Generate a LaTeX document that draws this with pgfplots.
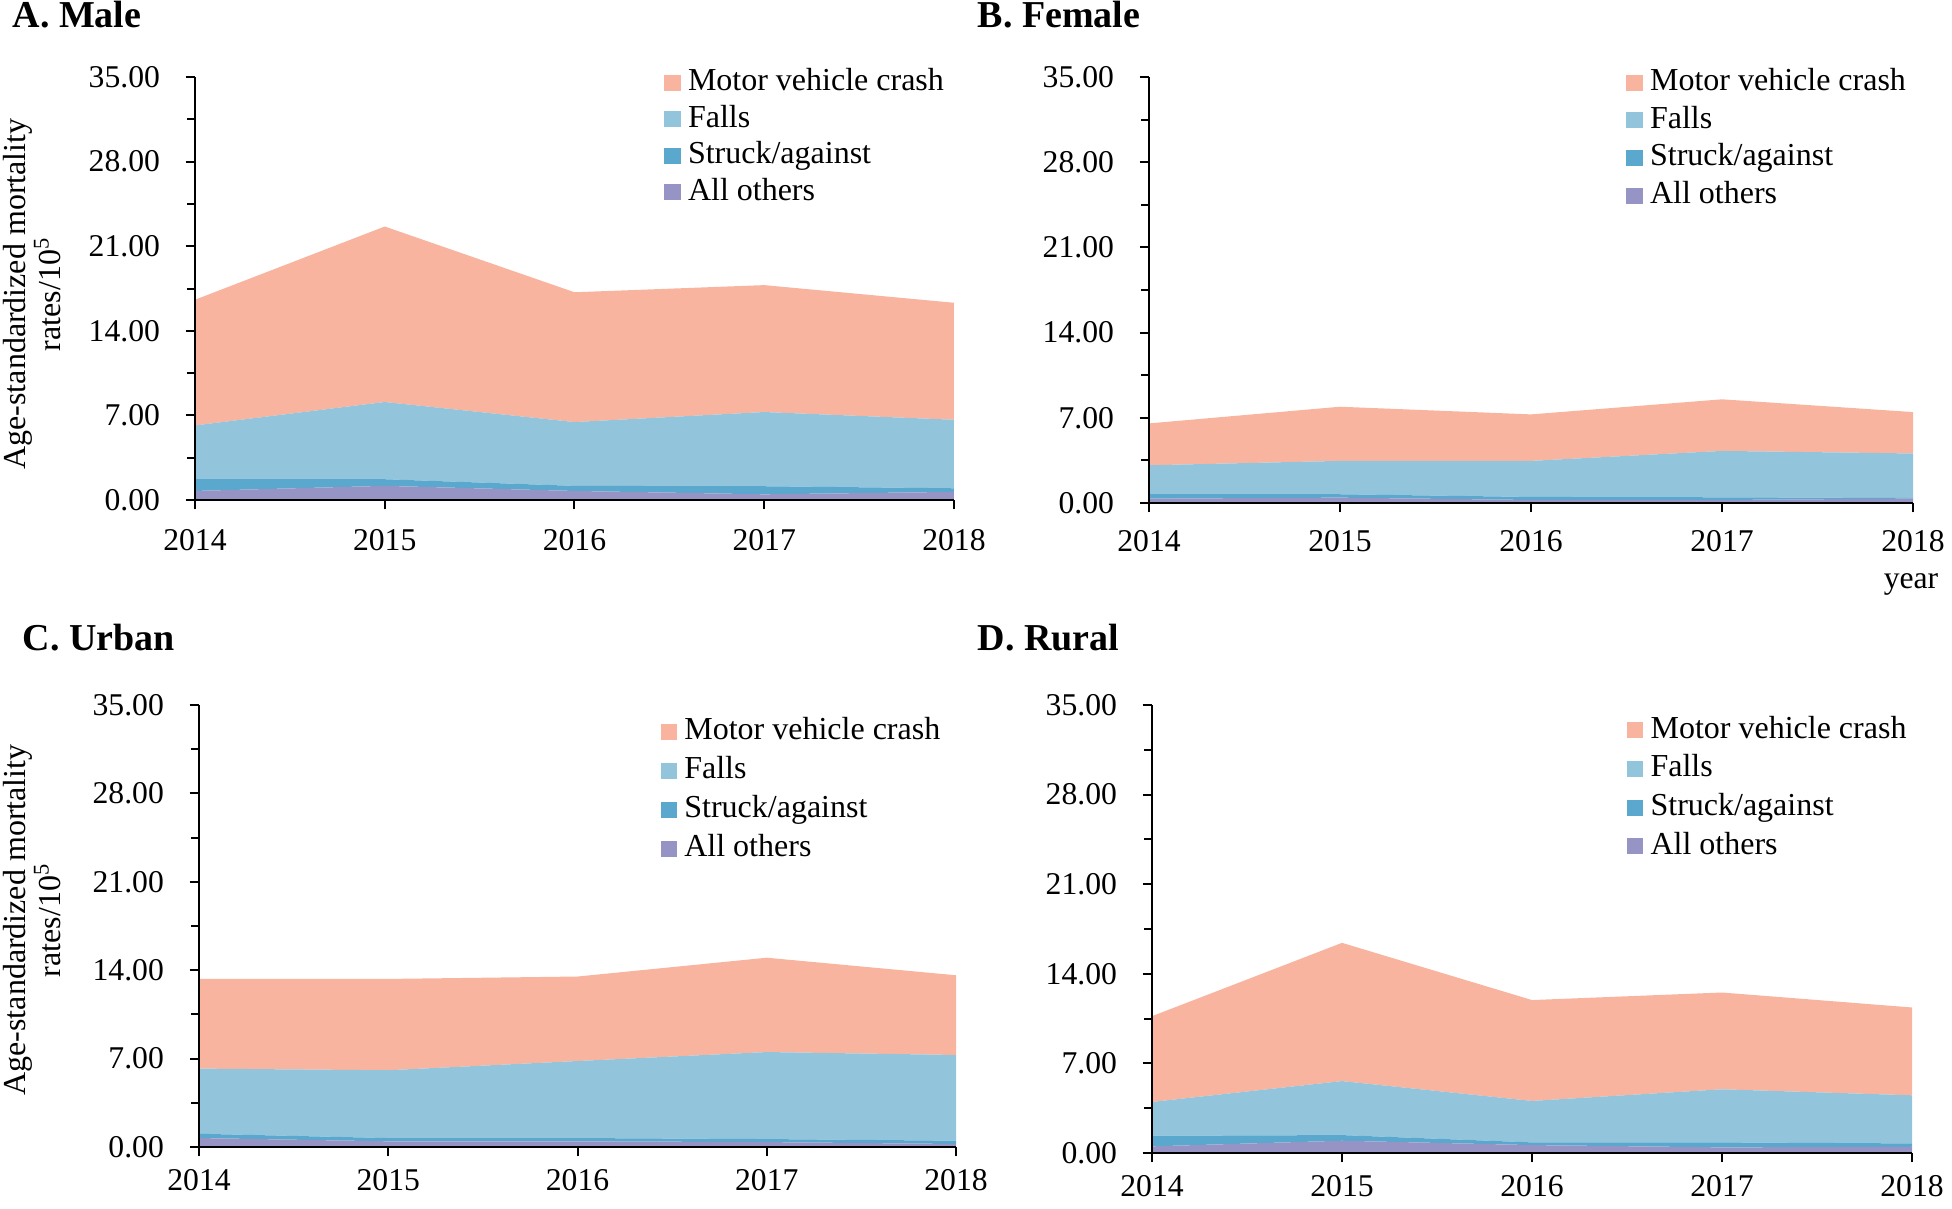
\documentclass[border=0pt]{standalone}
\usepackage{pgfplots}
\pgfplotsset{compat=1.18}
\usepackage{fontspec}
\setmainfont{Liberation Serif}
\definecolor{mvc}{RGB}{248,180,159}
\definecolor{falls}{RGB}{146,196,220}
\definecolor{struck}{RGB}{90,168,206}
\definecolor{others}{RGB}{150,148,196}
\pgfplotsset{
  panel/.style={
    scale only axis,
    xmin=2014, xmax=2018, ymin=0, ymax=35,
    xtick={2014,2015,2016,2017,2018},
    xticklabels={2014,2015,2016,2017,2018},
    ytick={0,7,14,21,28,35},
    minor ytick={3.5,10.5,17.5,24.5,31.5},
    yticklabel={\pgfmathprintnumber[fixed,fixed zerofill,precision=2]{\tick}},
    axis x line*=bottom, axis y line*=left,
    tick align=outside,
    major tick length=2.8pt, minor tick length=2.4pt,
    every tick/.style={black, line width=0.6pt},
    axis line style={black, line width=0.6pt},
    stack plots=y,
    area style,
    enlargelimits=false,
    tick label style={font=\fontsize{9.5}{10}\selectfont},
    yticklabel style={xshift=-4.2pt},
    /pgf/number format/assume math mode=true,
    reverse legend,
    legend cell align=left,
    legend style={draw=none, fill=none, anchor=north west, inner sep=0pt,
      font=\fontsize{9.6}{10}\selectfont, row sep=2.15pt,
      nodes={inner ysep=0pt, inner xsep=2.2pt, text height=6.8pt, text depth=2pt}},
    legend image code/.code={\fill[##1] (0pt,-2.4pt) rectangle (4.9pt,2.4pt);},
  }
}
\begin{document}
\begin{tikzpicture}
\path[use as bounding box] (0,0) rectangle (585.6pt,362.4pt);
% A. Male
\begin{axis}[panel, at={(58.5pt,212.4pt)}, anchor=south west, width=227.7pt, height=126.9pt,
  xticklabel style={yshift=-2.6pt},
  legend style={at={(0.6175,1.023)}}]
\addplot[fill=others, draw=none] coordinates {(2014,0.75) (2015,1.17) (2016,0.75) (2017,0.47) (2018,0.67)} \closedcycle;
\addplot[fill=struck, draw=none] coordinates {(2014,0.97) (2015,0.55) (2016,0.42) (2017,0.67) (2018,0.30)} \closedcycle;
\addplot[fill=falls, draw=none] coordinates {(2014,4.45) (2015,6.39) (2016,5.28) (2017,6.14) (2018,5.67)} \closedcycle;
\addplot[fill=mvc, draw=none] coordinates {(2014,10.40) (2015,14.52) (2016,10.74) (2017,10.50) (2018,9.68)} \closedcycle;
\legend{All others, Struck/against, Falls, Motor vehicle crash}
\end{axis}
% B. Female
\begin{axis}[panel, at={(344.7pt,211.5pt)}, anchor=south west, width=229.2pt, height=127.8pt,
  xticklabel style={yshift=-2.0pt},
  legend style={at={(0.624,1.023)}, row sep=2.5pt}]
\addplot[fill=others, draw=none] coordinates {(2014,0.36) (2015,0.44) (2016,0.25) (2017,0.25) (2018,0.36)} \closedcycle;
\addplot[fill=struck, draw=none] coordinates {(2014,0.36) (2015,0.28) (2016,0.25) (2017,0.22) (2018,0.05)} \closedcycle;
\addplot[fill=falls, draw=none] coordinates {(2014,2.38) (2015,2.74) (2016,2.96) (2017,3.81) (2018,3.66)} \closedcycle;
\addplot[fill=mvc, draw=none] coordinates {(2014,3.44) (2015,4.45) (2016,3.82) (2017,4.24) (2018,3.40)} \closedcycle;
\legend{All others, Struck/against, Falls, Motor vehicle crash}
\end{axis}
% C. Urban
\begin{axis}[panel, at={(59.7pt,18.3pt)}, anchor=south west, width=227.1pt, height=132.6pt,
  xticklabel style={yshift=-0.4pt},
  legend style={at={(0.609,0.974)}, row sep=2.9pt}]
\addplot[fill=others, draw=none] coordinates {(2014,0.71) (2015,0.45) (2016,0.45) (2017,0.39) (2018,0.24)} \closedcycle;
\addplot[fill=struck, draw=none] coordinates {(2014,0.34) (2015,0.26) (2016,0.26) (2017,0.24) (2018,0.26)} \closedcycle;
\addplot[fill=falls, draw=none] coordinates {(2014,5.16) (2015,5.37) (2016,6.10) (2017,6.89) (2018,6.79)} \closedcycle;
\addplot[fill=mvc, draw=none] coordinates {(2014,7.10) (2015,7.23) (2016,6.69) (2017,7.47) (2018,6.31)} \closedcycle;
\legend{All others, Struck/against, Falls, Motor vehicle crash}
\end{axis}
% D. Rural
\begin{axis}[panel, at={(345.6pt,16.5pt)}, anchor=south west, width=228pt, height=134.4pt,
  xticklabel style={yshift=-0.4pt},
  legend style={at={(0.624,0.978)}, row sep=2.8pt}]
\addplot[fill=others, draw=none] coordinates {(2014,0.52) (2015,0.96) (2016,0.62) (2017,0.44) (2018,0.49)} \closedcycle;
\addplot[fill=struck, draw=none] coordinates {(2014,0.83) (2015,0.44) (2016,0.21) (2017,0.39) (2018,0.26)} \closedcycle;
\addplot[fill=falls, draw=none] coordinates {(2014,2.64) (2015,4.22) (2016,3.24) (2017,4.15) (2018,3.76)} \closedcycle;
\addplot[fill=mvc, draw=none] coordinates {(2014,6.70) (2015,10.80) (2016,7.88) (2017,7.56) (2018,6.86)} \closedcycle;
\legend{All others, Struck/against, Falls, Motor vehicle crash}
\end{axis}
% titles
\node[anchor=base west, font=\fontsize{11.4}{12}\selectfont\bfseries, inner sep=0pt] at (3.6pt,354.2pt) {A. Male};
\node[anchor=base west, font=\fontsize{11.4}{12}\selectfont\bfseries, inner sep=0pt] at (293.1pt,354.2pt) {B. Female};
\node[anchor=base west, font=\fontsize{11.4}{12}\selectfont\bfseries, inner sep=0pt] at (6.7pt,167.4pt) {C. Urban};
\node[anchor=base west, font=\fontsize{11.4}{12}\selectfont\bfseries, inner sep=0pt] at (293.1pt,167.4pt) {D. Rural};
% y labels
\node[rotate=90, align=center, font=\fontsize{9.6}{10.6}\selectfont, inner sep=0pt] at (9.6pt,274.2pt) {Age-standardized mortality\\rates/10\textsuperscript{5}};
\node[rotate=90, align=center, font=\fontsize{9.6}{10.6}\selectfont, inner sep=0pt] at (9.6pt,86.4pt) {Age-standardized mortality\\rates/10\textsuperscript{5}};
% year
\node[anchor=base, font=\fontsize{9.5}{10}\selectfont, inner sep=0pt] at (573.3pt,186pt) {year};
\end{tikzpicture}
\end{document}
